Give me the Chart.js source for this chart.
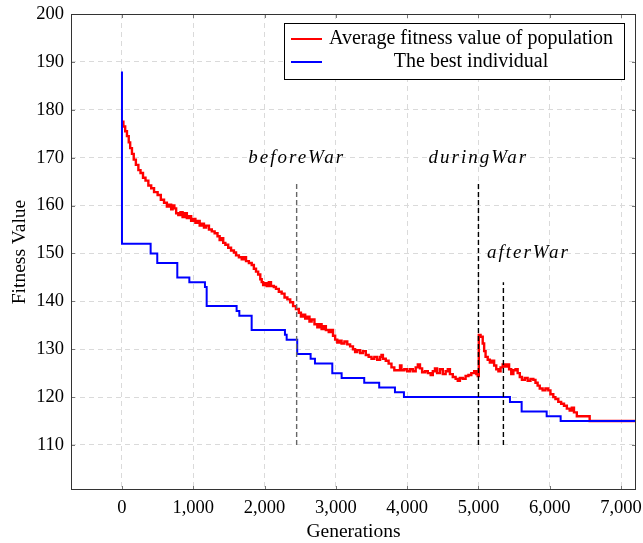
<!DOCTYPE html>
<html>
<head>
<meta charset="utf-8">
<script src="https://cdn.jsdelivr.net/npm/chart.js@4.4.0/dist/chart.umd.min.js"></script>
<style>
  html, body { margin: 0; padding: 0; background: #fff; }
</style>
</head>
<body>
<canvas id="myChart" width="643" height="543"></canvas>
<script>
// average fitness of the population (step line)
const avgGen = [0, 20, 45, 70, 95, 115, 140, 165, 195, 230, 260, 295, 330, 370, 410, 450, 500, 545, 590, 630,
  660, 690, 710, 735, 760, 790, 820, 850, 880, 910, 940, 970, 1000, 1030, 1060, 1090, 1120, 1150, 1180, 1220,
  1260, 1300, 1340, 1370, 1400, 1420, 1450, 1490, 1530, 1570, 1600, 1640, 1680, 1710, 1740, 1780, 1820, 1850, 1880, 1910,
  1940, 1960, 1980, 2000, 2030, 2060, 2090, 2130, 2160, 2200, 2240, 2280, 2320, 2360, 2400, 2440, 2480, 2510, 2540, 2570,
  2600, 2630, 2660, 2700, 2740, 2770, 2800, 2830, 2860, 2900, 2930, 2960, 2990, 3020, 3050, 3080, 3120, 3160, 3200, 3240,
  3270, 3300, 3340, 3380, 3420, 3460, 3500, 3540, 3580, 3620, 3640, 3660, 3700, 3740, 3780, 3820, 3860, 3900, 3920, 3960,
  4000, 4040, 4080, 4120, 4150, 4180, 4210, 4250, 4290, 4330, 4360, 4390, 4420, 4460, 4500, 4540, 4570, 4600, 4640, 4680,
  4710, 4740, 4780, 4820, 4860, 4900, 4940, 4970, 4990, 5005, 5030, 5060, 5080, 5100, 5130, 5160, 5190, 5220, 5250, 5280,
  5310, 5340, 5370, 5400, 5430, 5460, 5490, 5520, 5550, 5580, 5610, 5650, 5690, 5730, 5770, 5800, 5830, 5860, 5900, 5940,
  5980, 6010, 6050, 6080, 6120, 6160, 6200, 6240, 6280, 6310, 6340, 6380, 6420, 6470, 6540, 6560, 7210];
const avgFit = [177.5, 176.5, 175.5, 174.5, 173.2, 172.0, 170.8, 169.6, 168.5, 167.4, 166.8, 165.8, 165.2, 164.2, 163.6, 162.8, 162.2, 161.2, 160.6, 159.8,
  160.2, 159.2, 160.0, 159.4, 158.4, 158.0, 158.6, 157.6, 158.4, 157.4, 157.8, 156.8, 157.2, 156.4, 156.8, 155.8, 156.2, 155.4, 155.8, 155.0,
  154.6, 154.2, 153.6, 152.8, 153.2, 152.2, 151.8, 151.2, 150.6, 150.2, 149.6, 149.2, 148.8, 149.2, 148.4, 148.0, 147.6, 146.8, 146.2, 145.6,
  144.6, 144.0, 143.4, 143.8, 143.2, 144.0, 143.2, 143.0, 142.6, 142.0, 141.6, 140.8, 140.4, 139.8, 139.0, 138.4, 137.6, 136.8, 137.2, 136.4,
  136.8, 135.8, 136.2, 135.2, 134.6, 135.2, 134.2, 134.8, 134.0, 133.6, 134.0, 132.8, 132.0, 131.4, 131.8, 131.2, 131.6, 131.0, 130.6, 130.0,
  129.4, 129.8, 129.2, 129.6, 128.8, 128.4, 128.0, 128.4, 127.8, 128.4, 128.8, 128.0, 127.6, 127.0, 126.2, 125.6, 125.6, 126.6, 125.6, 125.8,
  125.4, 125.8, 125.4, 126.2, 126.8, 126.0, 125.2, 125.4, 125.0, 124.6, 125.4, 126.0, 125.0, 125.8, 124.8, 125.4, 125.8, 124.8, 124.2, 123.8,
  123.4, 124.0, 123.8, 124.4, 124.6, 125.0, 125.4, 124.8, 124.4, 133.0, 132.6, 131.2, 129.6, 128.4, 127.8, 127.2, 127.6, 126.6, 125.8, 125.4,
  126.2, 126.8, 126.4, 126.8, 125.8, 124.8, 125.6, 125.8, 125.0, 124.2, 123.6, 124.0, 123.4, 123.8, 123.6, 123.0, 122.4, 121.8, 121.4, 121.8,
  121.4, 120.6, 120.0, 119.6, 119.0, 118.6, 118.2, 117.6, 117.2, 117.8, 116.8, 116.0, 116.0, 116.0, 116.0, 115.0, 115.0];

// best individual (step line)
const bestGen = [0, 0, 402, 495, 776, 945, 1164, 1188, 1608, 1646, 1819, 2286, 2310, 2458, 2646, 2707, 2950, 3081,
  3398, 3608, 3829, 3955, 5442, 5606, 5957, 6153, 7210];
const bestFit = [188, 152, 150, 148, 145, 144, 143, 139, 138, 137, 134, 133, 132, 129, 128, 127, 125, 124,
  123, 122, 121, 120, 119, 117, 116, 115, 115];

// war markers
const warNames = ['beforeWar', 'duringWar', 'afterWar'];
const warGen = [2450, 5000, 5350];
const warTop = [165, 165, 144];
const warBottom = 110;
const warLabelGen = [2450, 5000, 5700];
const warLabelFit = [170, 170, 150];

const xTicks = [0, 1000, 2000, 3000, 4000, 5000, 6000, 7000];
const yTicks = [110, 120, 130, 140, 150, 160, 170, 180, 190, 200];

const seriesNames = ['Average fitness value of population', 'The best individual'];
const seriesColors = ['#ff0000', '#0000ff'];
const warColors = ['#666666', '#000000', '#000000'];

const serif = "'Liberation Serif', 'DejaVu Serif', serif";

const toPoints = (xs, ys) => xs.map((x, i) => ({ x: x, y: ys[i] }));

const datasets = [
  {
    label: seriesNames[0],
    data: toPoints(avgGen, avgFit),
    borderColor: seriesColors[0],
    borderWidth: 2.4,
    stepped: 'before',
    pointRadius: 0,
    order: 2
  },
  {
    label: seriesNames[1],
    data: toPoints(bestGen, bestFit),
    borderColor: seriesColors[1],
    borderWidth: 2,
    stepped: 'before',
    pointRadius: 0,
    order: 1
  }
];
warGen.forEach((g, i) => {
  datasets.push({
    label: warNames[i],
    data: [{ x: g, y: warBottom }, { x: g, y: warTop[i] }],
    borderColor: warColors[i],
    borderWidth: 1.4,
    borderDash: [5, 3],
    pointRadius: 0,
    order: 0
  });
});

const extras = {
  id: 'extras',
  afterDraw(chart) {
    const ctx = chart.ctx;
    const a = chart.chartArea;
    const xs = chart.scales.x, ys = chart.scales.y;
    ctx.save();

    // war labels (math italic)
    ctx.fillStyle = '#000';
    ctx.font = 'italic 19px ' + serif;
    ctx.letterSpacing = '2px';
    ctx.textAlign = 'center';
    ctx.textBaseline = 'middle';
    warNames.forEach((n, i) => {
      ctx.fillText(n, xs.getPixelForValue(warLabelGen[i]), ys.getPixelForValue(warLabelFit[i]));
    });
    ctx.letterSpacing = '0px';

    // inner tick marks
    ctx.strokeStyle = '#777';
    ctx.lineWidth = 1;
    ctx.beginPath();
    xTicks.forEach(v => {
      const px = Math.round(xs.getPixelForValue(v)) + 0.5;
      ctx.moveTo(px, a.bottom); ctx.lineTo(px, a.bottom - 4);
      ctx.moveTo(px, a.top); ctx.lineTo(px, a.top + 4);
    });
    yTicks.forEach(v => {
      const py = Math.round(ys.getPixelForValue(v)) + 0.5;
      ctx.moveTo(a.left, py); ctx.lineTo(a.left + 4, py);
      ctx.moveTo(a.right, py); ctx.lineTo(a.right - 4, py);
    });
    ctx.stroke();

    // frame
    ctx.strokeStyle = '#333';
    ctx.strokeRect(a.left + 0.5, a.top + 0.5, a.right - a.left - 1, a.bottom - a.top - 1);

    // legend box
    const bx = a.right - 352, by = a.top + 9, bw = 340, bh = 56;
    ctx.fillStyle = '#fff';
    ctx.fillRect(bx, by, bw, bh);
    ctx.strokeStyle = '#000';
    ctx.strokeRect(bx + 0.5, by + 0.5, bw, bh);
    ctx.font = '20px ' + serif;
    ctx.textBaseline = 'middle';
    const textCenter = bx + 187;
    seriesNames.forEach((n, i) => {
      const ly = by + 16 + i * 23;
      ctx.strokeStyle = seriesColors[i];
      ctx.lineWidth = 2;
      ctx.beginPath();
      ctx.moveTo(bx + 7, ly);
      ctx.lineTo(bx + 38, ly);
      ctx.stroke();
      ctx.fillStyle = '#000';
      ctx.textAlign = 'center';
      ctx.fillText(n, textCenter, ly);
    });
    ctx.restore();
  }
};

const noEdgePadding = s => {
  s.paddingLeft = 0; s.paddingRight = 0; s.paddingTop = 0; s.paddingBottom = 0;
};

new Chart('myChart', {
  type: 'line',
  data: { datasets: datasets },
  options: {
    responsive: false,
    animation: false,
    events: [],
    layout: { padding: { top: 14, right: 7, left: 0, bottom: 0 } },
    plugins: {
      legend: { display: false },
      tooltip: { enabled: false },
      title: { display: false }
    },
    scales: {
      x: {
        type: 'linear',
        min: -715,
        max: 7210,
        afterBuildTicks: s => { s.ticks = xTicks.map(v => ({ value: v })); },
        afterFit: s => { s.height = 53; noEdgePadding(s); },
        grid: { color: '#dadada', lineWidth: 1, drawTicks: false },
        border: { display: false, dash: [5, 4] },
        ticks: {
          padding: 7,
          color: '#000',
          font: { family: serif, size: 18.5 },
          maxRotation: 0,
          callback: v => v.toLocaleString('en-US')
        },
        title: {
          display: true,
          text: 'Generations',
          color: '#000',
          font: { family: serif, size: 19.5, lineHeight: 1 },
          padding: { top: 0, bottom: 1 }
        }
      },
      y: {
        type: 'linear',
        min: 100.6,
        max: 200,
        afterBuildTicks: s => { s.ticks = yTicks.map(v => ({ value: v })); },
        afterFit: s => { s.width = 71; noEdgePadding(s); },
        grid: { color: '#dadada', lineWidth: 1, drawTicks: false },
        border: { display: false, dash: [5, 4] },
        ticks: {
          padding: 7,
          color: '#000',
          font: { family: serif, size: 18.5 }
        },
        title: {
          display: true,
          text: 'Fitness Value',
          color: '#000',
          font: { family: serif, size: 19.5 },
          padding: { top: 8, bottom: 0 }
        }
      }
    }
  },
  plugins: [extras]
});
</script>
</body>
</html>
